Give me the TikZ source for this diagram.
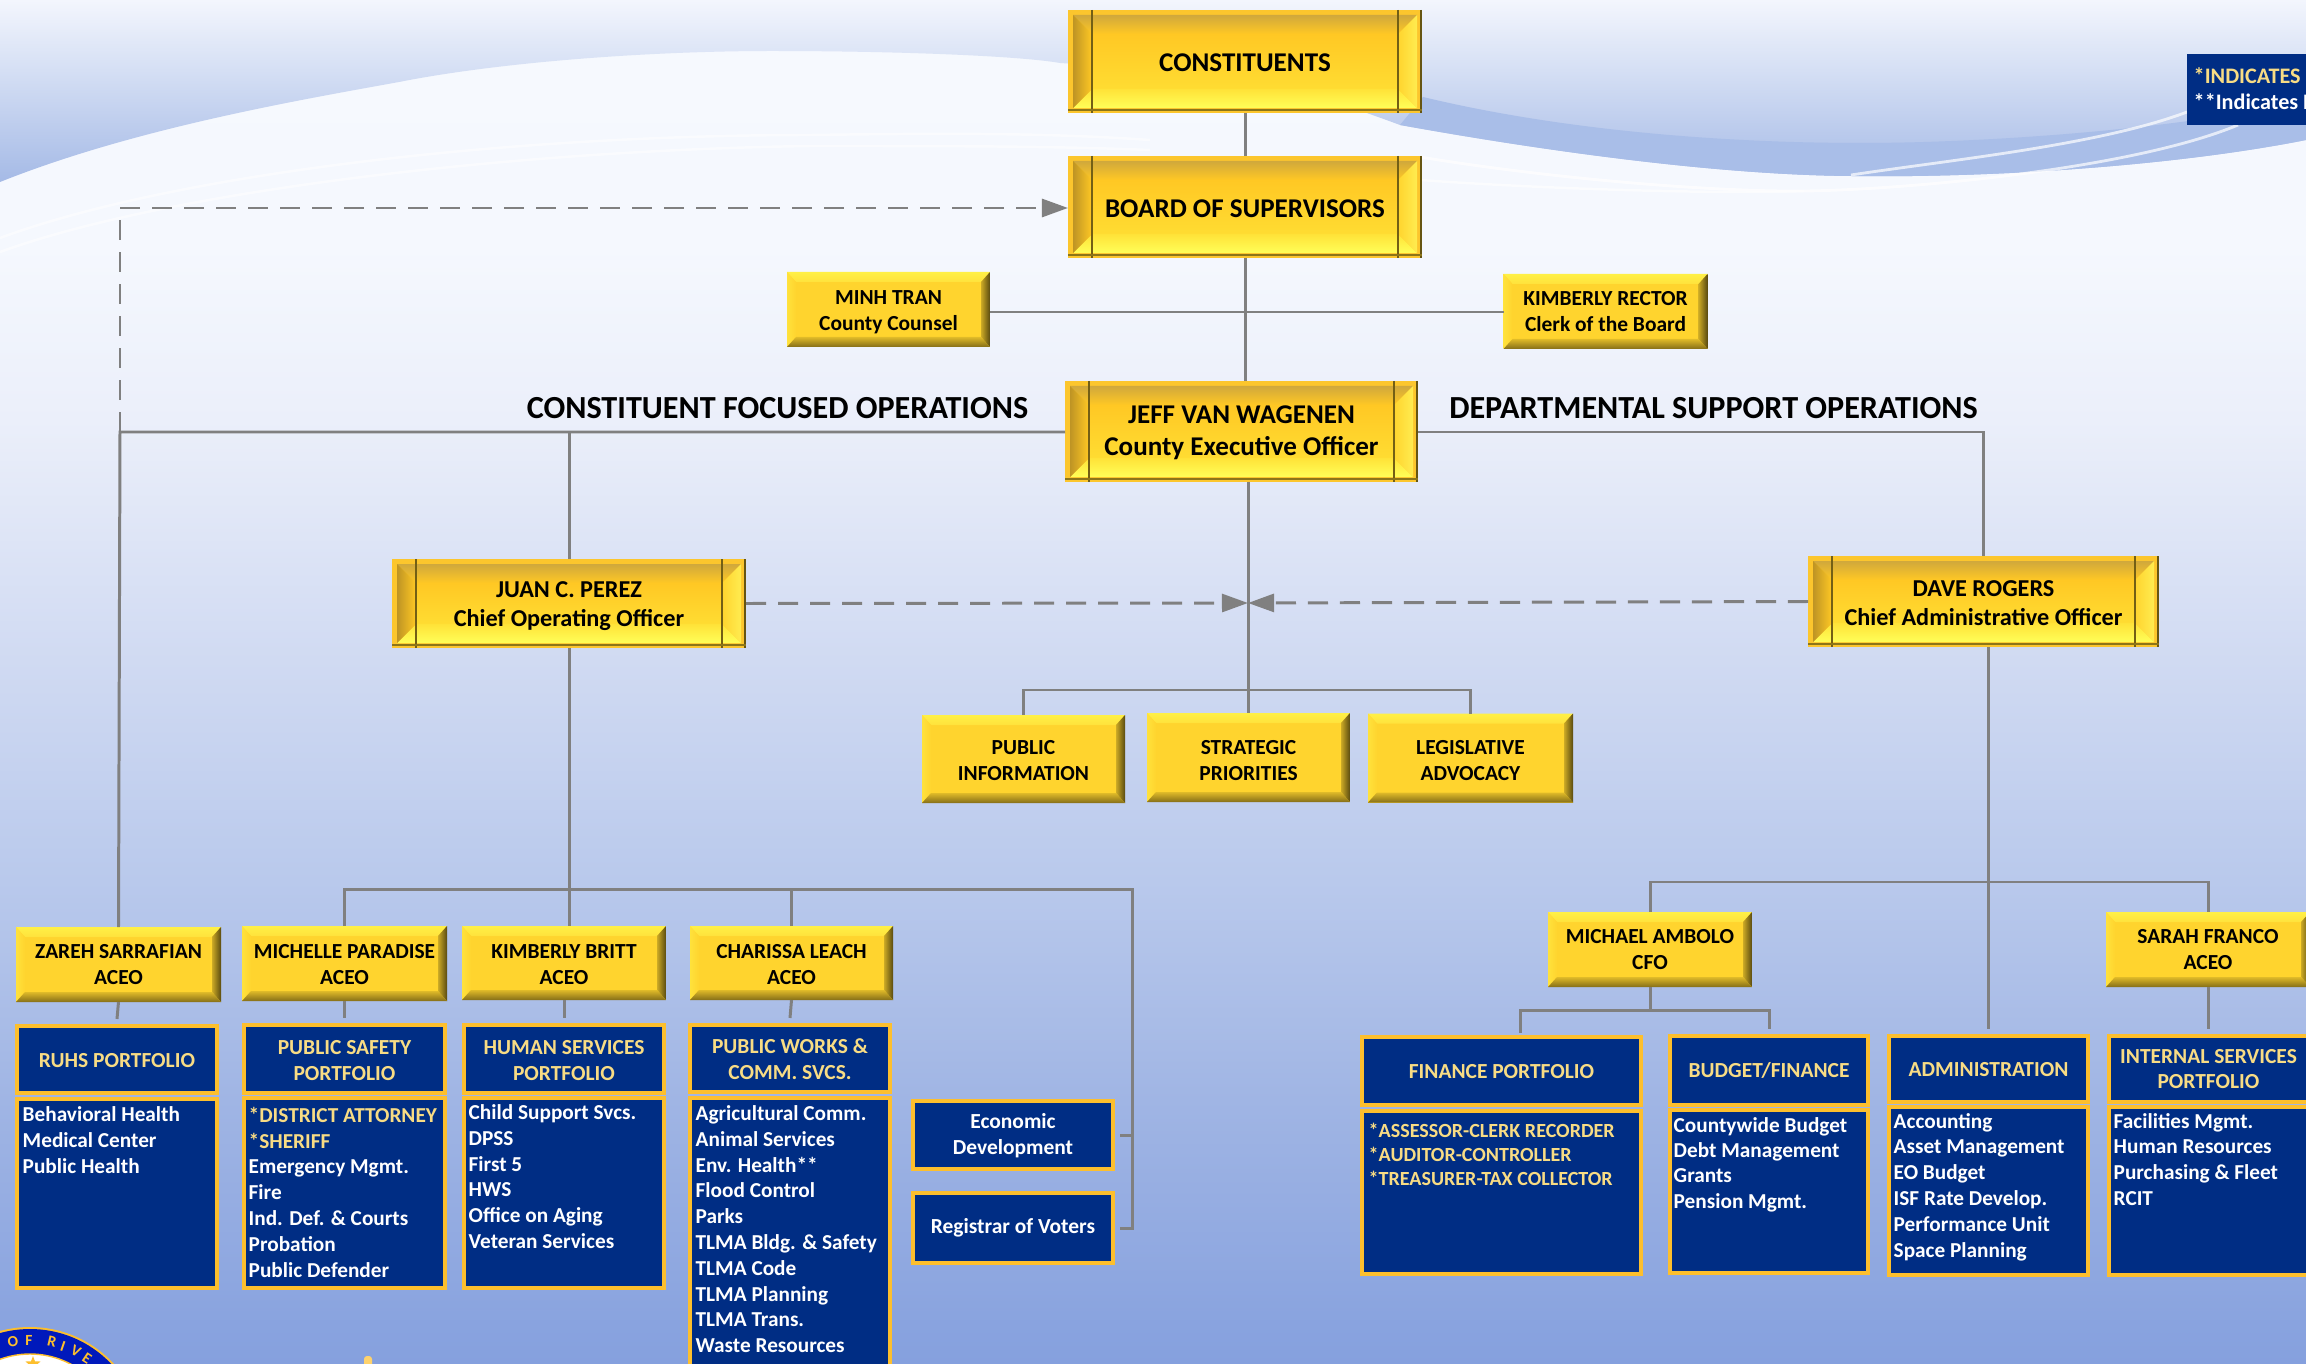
\documentclass[tikz,border=0pt]{standalone}
\usepackage{fontspec}
\setmainfont{Carlito}
\usepackage{xcolor}
\usetikzlibrary{positioning,calc,arrows.meta,shapes.geometric}
\definecolor{navyfill}{HTML}{002D84}
\definecolor{navyedge}{HTML}{FDBF2D}
\definecolor{goldtext}{HTML}{F8DC84}
\definecolor{linegray}{HTML}{808080}
\definecolor{facegold}{HTML}{FFD42E}
\definecolor{raisetop}{HTML}{FFF046}
\definecolor{raiselow}{HTML}{FFE23C}
\definecolor{sunkrim}{HTML}{FCC62D}
\definecolor{sunkface}{HTML}{FFC824}
\definecolor{sunkfacelow}{HTML}{FFDC32}
\definecolor{sunktop}{HTML}{D0A83C}
\definecolor{sunkleft}{HTML}{BE9424}
\definecolor{sunklow}{HTML}{FFE238}
\definecolor{sunkbright}{HTML}{FFFF58}
\definecolor{sunkright}{HTML}{FFEC50}
\definecolor{bgA}{HTML}{F6F9FE}
\definecolor{bgB}{HTML}{F5F8FE}
\definecolor{bgC}{HTML}{EBEFFA}
\definecolor{bgD}{HTML}{D0DAF2}
\definecolor{bgE}{HTML}{B9C9EC}
\definecolor{bgF}{HTML}{A0B5E4}
\definecolor{bgG}{HTML}{85A0DE}
\definecolor{swooshtop}{HTML}{F3F6FD}
\definecolor{swooshlow}{HTML}{A5BAE6}
\definecolor{swooshband}{HTML}{A9BEE8}
\pgfdeclareverticalshading{bggrad}{100bp}{color(0bp)=(bgG); color(25bp)=(bgG); color(34.7bp)=(bgF); color(42.7bp)=(bgE); color(50.8bp)=(bgD); color(59.6bp)=(bgC); color(66bp)=(bgB); color(75bp)=(bgA); color(100bp)=(bgA)}
% raised bevel of the small gold boxes
\newcommand{\raisedbevel}{%
  \coordinate (nw) at (path picture bounding box.north west);
  \coordinate (ne) at (path picture bounding box.north east);
  \coordinate (se) at (path picture bounding box.south east);
  \coordinate (sw) at (path picture bounding box.south west);
  \fill[facegold] (nw) rectangle (se);
  \shade[top color=raisetop,bottom color=raiselow] (nw) -- (ne) -- ([shift={(-9,10)}]ne) -- ([shift={(9,10)}]nw) -- cycle;
  \shade[left color=raiselow,right color=facegold] (nw) -- ([shift={(9,10)}]nw) -- ([shift={(9,-10)}]sw) -- (sw) -- cycle;
  \shade[left color=facegold!80!black,right color=facegold!35!black] (ne) -- ([shift={(-9,10)}]ne) -- ([shift={(-9,-10)}]se) -- (se) -- cycle;
  \shade[top color=facegold!88!black,bottom color=facegold!52!black] (sw) -- ([shift={(9,-10)}]sw) -- ([shift={(-9,-10)}]se) -- (se) -- cycle;
}
% sunken bevel and side bars of the large gold boxes
\newcommand{\sunkenbevel}{%
  \coordinate (nw) at (path picture bounding box.north west);
  \coordinate (ne) at (path picture bounding box.north east);
  \coordinate (se) at (path picture bounding box.south east);
  \coordinate (sw) at (path picture bounding box.south west);
  \fill[sunkrim] (nw) rectangle (se);
  \shade[top color=sunkface,bottom color=sunkfacelow] ([shift={(24,24)}]nw) rectangle ([shift={(-24,-24)}]se);
  \shade[top color=sunktop,bottom color=sunkface] ([shift={(5,5)}]nw) -- ([shift={(-5,5)}]ne) -- ([shift={(-24,24)}]ne) -- ([shift={(24,24)}]nw) -- cycle;
  \shade[top color=sunklow,bottom color=sunkbright] ([shift={(5,-5)}]sw) -- ([shift={(-5,-5)}]se) -- ([shift={(-24,-24)}]se) -- ([shift={(24,-24)}]sw) -- cycle;
  \shade[left color=sunkleft,right color=sunkface] ([shift={(5,5)}]nw) -- ([shift={(24,24)}]nw) -- ([shift={(24,-24)}]sw) -- ([shift={(5,-5)}]sw) -- cycle;
  \shade[left color=facegold,right color=sunkright] ([shift={(-5,5)}]ne) -- ([shift={(-24,24)}]ne) -- ([shift={(-24,-24)}]se) -- ([shift={(-5,-5)}]se) -- cycle;
  \draw[facegold!45!black,line width=0.4pt] ([shift={(24,0)}]nw) -- ([shift={(24,0)}]sw);
  \draw[facegold!45!black,line width=0.4pt] ([shift={(-24,0)}]ne) -- ([shift={(-24,0)}]se);
  \draw[facegold!40!black,line width=0.6pt] ([shift={(-1,0)}]ne) -- ([shift={(-1,0)}]se);
  \draw[facegold!55!black,line width=0.7pt] ([shift={(0,-3)}]sw) -- ([shift={(0,-3)}]se);
}
\tikzset{
  pxsize/.style 2 args={minimum width=#1*0.01cm,minimum height=#2*0.01cm,inner sep=0pt,outer sep=0pt},
  lift/.style={execute at begin node={\rule{0pt}{#1pt}}},
  raised/.style={align=center,text=black,font=\bfseries\fontsize{6.1}{7.4}\selectfont,path picture={\raisedbevel}},
  sunken/.style={align=center,text=black,font=\bfseries\fontsize{7.7}{9}\selectfont,path picture={\sunkenbevel}},
  navybox/.style={draw=navyedge,line width=1.25pt,fill=navyfill,align=center,text=goldtext,font=\bfseries\fontsize{6.1}{7.35}\selectfont},
  navysize/.style 2 args={minimum width=(#1-4)*0.01cm,minimum height=(#2-4)*0.01cm,inner sep=0pt,outer sep=2pt},
  listtext/.style={anchor=north west,inner sep=0pt,align=left,text=white,font=\bfseries\fontsize{6.05}{7.33}\selectfont,execute at begin node=\strut},
  headtext/.style={inner sep=0pt,font=\bfseries\fontsize{9.15}{10}\selectfont},
  link/.style={draw=linegray,line width=0.85pt},
  dashlink/.style={draw=linegray,line width=0.85pt,dash pattern=on 5.7pt off 3.4pt},
  tip/.style={-{Triangle[length=7.4pt,width=5.1pt]}},
}
\begin{document}
\begin{tikzpicture}[x=0.01cm,y=-0.01cm]
\useasboundingbox (0,0) rectangle (2306,1364);
\clip (0,0) rectangle (2306,1364);
% background
\shade[shading=bggrad] (0,0) rectangle (2306,1364);
\shade[top color=swooshtop,bottom color=swooshlow] (0,0) -- (0,182)
  .. controls (135,128) and (300,100) .. (399,82)
  .. controls (500,62) and (650,51) .. (771,51)
  .. controls (900,51) and (1020,56) .. (1060,63)
  .. controls (1250,75) and (1300,88) .. (1400,125)
  .. controls (1550,152) and (1720,175) .. (1851,176)
  .. controls (2000,178) and (2180,165) .. (2306,140)
  -- (2306,0) -- cycle;
\fill[swooshband] (1423,97)
  .. controls (1560,130) and (1720,143) .. (1862,143)
  .. controls (1980,143) and (2180,130) .. (2306,100)
  -- (2306,140)
  .. controls (2180,165) and (2000,178) .. (1851,176)
  .. controls (1720,175) and (1550,152) .. (1400,125) -- cycle;
\draw[white,opacity=0.55,line width=0.7pt] (0,238) .. controls (170,175) and (500,135) .. (811,135) .. controls (950,133) and (1050,133) .. (1150,140);
\draw[white,opacity=0.55,line width=0.7pt] (0,252) .. controls (170,190) and (520,150) .. (811,146) .. controls (950,146) and (1050,146) .. (1150,150);
\draw[white,opacity=0.7,line width=0.8pt] (1420,157) .. controls (1560,180) and (1720,192) .. (1804,191) .. controls (1900,190) and (2130,170) .. (2238,125);
\draw[white,opacity=0.6,line width=0.7pt] (1420,180) .. controls (1560,190) and (1730,194) .. (1804,191);
\draw[white,opacity=0.7,line width=0.8pt] (1851,175) .. controls (1950,160) and (2100,145) .. (2187,112);
% county seal and the edge of the mark next to it
\fill[navyedge] (30,1441) circle (114);
\fill[blue!45!navyfill] (30,1441) circle (112);
\fill[white] (30,1441) circle (87);
\draw[navyedge,line width=0.4pt] (30,1441) circle (87);
\foreach \ch/\px/\py/\rot in {O/13/1342/10,F/29/1340/0,R/52/1342/-13,I/63/1346/-19,V/76/1351/-27,E/87/1358/-34}
  \node[inner sep=0pt,text=navyedge,font=\bfseries\fontsize{4.4}{5}\selectfont,rotate=\rot] (seal\ch) at (\px,\py) {\ch};
\node[star,star points=5,star point ratio=2.4,fill=navyedge,minimum size=16*0.01cm,inner sep=0pt] (sealstar) at (33,1364) {};
\fill[navyedge!70!white,rounded corners=0.03cm] (364,1356) rectangle (372,1372);
% top of the chart
\node[sunken,lift=6,pxsize={354}{103}] (constit) at (1245,61.5) {CONSTITUENTS};
\node[sunken,lift=6,pxsize={354}{102}] (board) at (1245,207) {BOARD OF SUPERVISORS};
\node[raised,lift=13,pxsize={203}{75}] (minh) at (888.5,309.5) {MINH TRAN\\County Counsel};
\node[raised,pxsize={204}{75}] (rector) at (1605.5,311.5) {KIMBERLY RECTOR\\Clerk of the Board};
\node[sunken,lift=14.9,pxsize={353}{101},font=\bfseries\fontsize{7.7}{9.1}\selectfont] (jeff) at (1241.5,431.5) {JEFF VAN WAGENEN\\County Executive Officer};
\node[headtext] (cfo) at (777.5,408.5) {CONSTITUENT FOCUSED OPERATIONS};
\node[headtext] (dso) at (1713.5,408.5) {DEPARTMENTAL SUPPORT OPERATIONS};
\node[sunken,lift=14.3,pxsize={354}{89},font=\bfseries\fontsize{6.9}{8.2}\selectfont] (juan) at (569,603.5) {JUAN C. PEREZ\\Chief Operating Officer};
\node[sunken,lift=13.5,pxsize={351}{91},font=\bfseries\fontsize{6.9}{8.2}\selectfont] (dave) at (1983.5,601.5) {DAVE ROGERS\\Chief Administrative Officer};
\node[raised,lift=12.2,pxsize={203}{88}] (pubinfo) at (1023.5,759) {PUBLIC\\INFORMATION};
\node[raised,lift=13,pxsize={203}{89}] (strategic) at (1248.5,757.5) {STRATEGIC\\PRIORITIES};
\node[raised,lift=13,pxsize={205}{89}] (legis) at (1470.5,758) {LEGISLATIVE\\ADVOCACY};
% ACEO row
\node[raised,pxsize={205}{75}] (zareh) at (118.5,964.5) {ZAREH SARRAFIAN\\ACEO};
\node[raised,lift=12.2,pxsize={205}{75}] (michelle) at (344.5,963.5) {MICHELLE PARADISE\\ACEO};
\node[raised,lift=12.2,pxsize={204}{74}] (britt) at (564,963) {KIMBERLY BRITT\\ACEO};
\node[raised,lift=12.2,pxsize={203}{74}] (charissa) at (791.5,963) {CHARISSA LEACH\\ACEO};
\node[raised,pxsize={204}{75}] (michael) at (1650,949.5) {MICHAEL AMBOLO\\CFO};
\node[raised,pxsize={204}{75}] (sarah) at (2208,949.5) {SARAH FRANCO\\ACEO};
% portfolios
\node[navybox,lift=4.5,navysize={204}{71}] (ruhs) at (117,1059.5) {RUHS PORTFOLIO};
\node[navybox,navysize={204}{193}] (ruhsb) at (117,1193.5) {};
\node[listtext] (ruhsl) at (22,1106) {Behavioral Health\\Medical Center\\Public Health};
\node[navybox,lift=12.1,navysize={205}{72}] (safety) at (344.5,1059) {PUBLIC SAFETY\\PORTFOLIO};
\node[navybox,navysize={205}{194}] (safetyb) at (344.5,1193) {};
\node[listtext] (safetyl) at (248,1106.5) {\textcolor{goldtext}{*DISTRICT ATTORNEY}\\\textcolor{goldtext}{*SHERIFF}\\Emergency Mgmt.\\Fire\\Ind. Def. \& Courts\\Probation\\Public Defender};
\node[navybox,lift=12.1,navysize={204}{72}] (human) at (564,1059) {HUMAN SERVICES\\PORTFOLIO};
\node[navybox,navysize={204}{194}] (humanb) at (564,1193) {};
\node[listtext] (humanl) at (468,1104) {Child Support Svcs.\\DPSS\\First 5\\HWS\\Office on Aging\\Veteran Services};
\node[navybox,lift=12.1,navysize={204}{71}] (works) at (790,1058.5) {PUBLIC WORKS \&\\COMM. SVCS.};
\node[navybox,navysize={204}{304}] (worksb) at (790,1248) {};
\node[listtext] (worksl) at (695,1105) {Agricultural Comm.\\Animal Services\\Env. Health**\\Flood Control\\Parks\\TLMA Bldg. \& Safety\\TLMA Code\\TLMA Planning\\TLMA Trans.\\Waste Resources};
\node[navybox,lift=12.1,navysize={204}{72},text=white] (econ) at (1013,1135) {Economic\\Development};
\node[navybox,navysize={204}{74},text=white] (regvot) at (1013,1228) {Registrar of Voters};
\node[navybox,lift=4.5,navysize={283}{72}] (finance) at (1501.5,1071) {FINANCE PORTFOLIO};
\node[navybox,navysize={283}{167}] (financeb) at (1501.5,1192.5) {};
\node[listtext,text=goldtext,font=\bfseries\fontsize{5.7}{6.8}\selectfont] (financel) at (1368,1122.5) {*ASSESSOR-CLERK RECORDER\\*AUDITOR-CONTROLLER\\*TREASURER-TAX COLLECTOR};
\node[navybox,lift=4.5,navysize={202}{73}] (budget) at (1769,1070.5) {BUDGET/FINANCE};
\node[navybox,navysize={202}{167}] (budgetb) at (1769,1191.5) {};
\node[listtext,font=\bfseries\fontsize{6.05}{7.2}\selectfont] (budgetl) at (1673,1116.5) {Countywide Budget\\Debt Management\\Grants\\Pension Mgmt.};
\node[navybox,lift=4.5,navysize={203}{70}] (admin) at (1988.5,1069) {ADMINISTRATION};
\node[navybox,navysize={203}{172}] (adminb) at (1988.5,1191) {};
\node[listtext] (adminl) at (1893,1112.5) {Accounting\\Asset Management\\EO Budget\\ISF Rate Develop.\\Performance Unit\\Space Planning};
\node[navybox,navysize={203}{70}] (internal) at (2208.5,1069) {INTERNAL SERVICES\\PORTFOLIO};
\node[navybox,navysize={203}{172}] (internalb) at (2208.5,1191) {};
\node[listtext] (internall) at (2113,1112.5) {Facilities Mgmt.\\Human Resources\\Purchasing \& Fleet\\RCIT};
% legend, cut by the page edge
\node[fill=navyfill,pxsize={232}{71}] (legend) at (2303,89.5) {};
\node[listtext,font=\bfseries\fontsize{6.3}{7.35}\selectfont] (legendl) at (2193,67) {\textcolor{goldtext}{*INDICATES E}\\**Indicates R};
% points the connectors turn at
\coordinate (cctee) at (1246,312);
\coordinate (cfocorner) at (120,432);
\coordinate (dsocorner) at (1983.5,432);
\coordinate (dashturn) at (120,208);
\coordinate (dashmid) at (1248,603);
\coordinate (staffbar) at (1249,690);
\coordinate (coobar) at (1132,889);
\coordinate (coodown) at (1132,1228);
\coordinate (caobar) at (1990,882);
\coordinate (cfobar) at (1650,1010);
\coordinate (findrop) at (1520,1033);
\coordinate (sarahend) at (2208,1029);
% connectors
\path[link] (constit.south) -- (board.north);
\path[link] (board.south) -- (board.south |- jeff.north);
\path[link] (minh.east |- cctee) -- (cctee) -- (rector.west |- cctee);
\path[link] (jeff.west |- cfocorner) -- (cfocorner) -- (zareh.north);
\path[link] (juan.north) -- (juan.north |- cfocorner);
\path[link] (jeff.east |- dsocorner) -- (dsocorner) -- (dave.north);
\path[link] (strategic.north |- jeff.south) -- (strategic.north);
\path[link] (pubinfo.north) |- (staffbar) -| (legis.north);
\path[link] (juan.south) -- (juan.south |- britt.north);
\path[link] (michelle.north) |- (coobar) -- (coodown) -- (regvot.east |- coodown);
\path[link] (charissa.north) -- (charissa.north |- coobar);
\path[link] (econ.east) -- (econ.east -| coobar);
\path[link] (zareh.south) -- (ruhs.north);
\path[link] (michelle.south) -- (safety.north);
\path[link] (britt.south) -- (human.north);
\path[link] (charissa.south) -- (works.north);
\path[link] (admin.north |- dave.south) -- (admin.north);
\path[link] (michael.north) |- (caobar) -| (sarah.north);
\path[link] (michael.south) -- (cfobar);
\path[link] (findrop) |- (cfobar) -| (budget.north);
\path[link] (sarah.south) -- (sarahend);
\draw[dashlink,line width=0.6pt] (cfocorner) -- (dashturn);
\draw[dashlink,tip] (dashturn) -- (dashturn -| board.west);
\draw[dashlink,tip] (juan.east) -- (dashmid);
\draw[dashlink,tip] (dave.west) -- (dashmid);
\end{tikzpicture}
\end{document}
